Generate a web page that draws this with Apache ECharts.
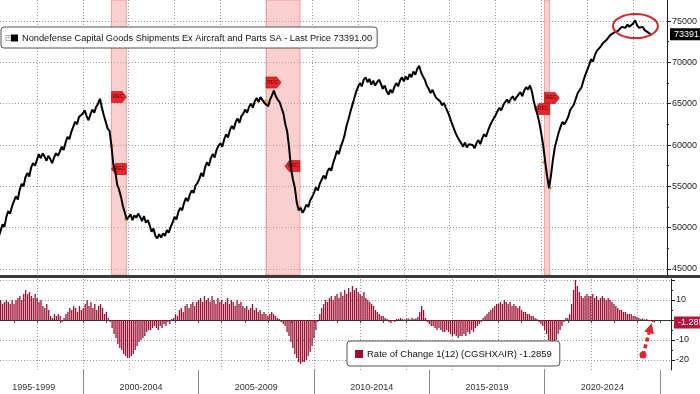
<!DOCTYPE html>
<html><head><meta charset="utf-8">
<script src="https://cdn.jsdelivr.net/npm/echarts@6/dist/echarts.min.js"></script>
<style>html,body{margin:0;padding:0;background:#fff}#c{width:700px;height:394px}</style>
</head><body><div id="c"></div>
<script>
// ---------- DATA ----------
const startYear = 1996, startMonth = 5; // first observation: May 1996, monthly
const seriesName = 'Nondefense Capital Goods Shipments Ex Aircraft and Parts SA';
const rocName = 'Rate of Change 1(12) (CGSHXAIR)';
const shipments = [
  48900, 49600, 50400, 50100, 51300, 52000, 51700, 52600,
  53200, 53800, 53400, 54600, 55300, 55000, 56100, 56600, 56200, 57300, 57800, 57500,
  58200, 58900, 58400, 59000, 58600, 58100, 58700, 58300, 57800, 58500, 59000, 58700,
  59200, 59800, 59400, 60300, 61000, 60700, 61600, 62200, 62800, 62500, 63400, 63500,
  63800, 64200, 63500, 63000, 63700, 64300, 63900, 64600, 65000, 65600, 64500, 63600,
  62800, 62000, 61700, 59900, 57600, 56800, 55200, 54600, 53700, 52600, 51800, 51000,
  51300, 51600, 50900, 51500, 51200, 51700, 51300, 50800, 51400, 50600, 50900, 50300,
  49500, 49900, 49000, 48700, 49200, 48800, 49300, 49000, 49700, 49400, 50100, 50600,
  51300, 51000, 51900, 52400, 52100, 53000, 53600, 53200, 54000, 54500, 54200, 55100,
  55400, 55900, 56600, 56200, 57300, 57900, 57500, 58400, 58900, 58500, 59400, 59900,
  60200, 59800, 60700, 61300, 60900, 61800, 62300, 61900, 62800, 63200, 62700, 63500,
  63800, 64300, 63900, 64600, 65000, 64500, 65300, 65700, 65200, 65800, 65900, 65100,
  65300, 64700, 65500, 66000, 66600, 65900, 65500, 65200, 65400, 63800, 62500, 61600,
  59600, 57100, 55800, 54800, 53000, 52100, 52400, 51800, 52200, 52800, 52500, 53300,
  53700, 54200, 54900, 54500, 55300, 55800, 56300, 55900, 56800, 57200, 56900, 57800,
  58500, 59300, 58900, 59800, 60400, 61200, 62300, 63100, 64000, 64800, 65600, 66400,
  67000, 67500, 67100, 67900, 68200, 67600, 68000, 67300, 67800, 67200, 67600, 67900,
  67400, 66800, 67200, 66500, 66100, 66700, 66300, 67000, 67500, 67100, 67800, 68200,
  67700, 68300, 67900, 68600, 68200, 68900, 68500, 69200, 69600, 68800, 68300, 67900,
  67200, 66800, 66300, 66700, 66100, 65700, 65900, 65300, 64800, 65100, 64500, 64000,
  63400, 62700, 62100, 61500, 61000, 60600, 60200, 59800, 60300, 59700, 60100, 59900,
  60000, 59600, 60200, 60600, 60100, 60800, 61300, 61000, 61700, 62300, 62800, 63200,
  63600, 64100, 64500, 64200, 64800, 65200, 65500, 65100, 65600, 65900, 65400, 65800,
  66000, 66400, 65900, 66600, 67000, 66700, 67200, 66500, 65300, 64400, 63600, 62600,
  61300, 59800, 57900, 56200, 54800, 56300, 58200, 59700, 60600, 61500, 62200, 62800,
  62500, 62900, 63400, 64200, 64000, 64900, 65600, 66300, 66100, 67000, 67800, 68500,
  69100, 69700, 70400, 70100, 70900, 71400, 71200, 71900, 72300, 72100, 72700, 73000,
  73300, 73100, 73600, 73400, 73800, 74000, 74300, 74100, 74200, 74600, 74300, 74400,
  74700, 75100, 74500, 74200, 74000, 74300, 73900, 73800, 73600, 73391
];
const roc = [
  9, 10, 8, 9, 10, 9, 8, 10,
  8, 10, 11, 12, 10, 13, 15, 13, 14, 12, 11, 13,
  11, 9, 10, 7, 6, 8, 5, 2, 1, 3, 2, 3,
  2, -1, 1, 3, 4, 6, 5, 7, 6, 4, 7, 5,
  6, 8, 10, 7, 9, 6, 8, 5, 7, 8, 6, 3,
  4, 1, -1, -4, -7, -9, -12, -14, -15, -17, -18, -19,
  -19, -18, -17, -15, -13, -11, -10, -9, -8, -6, -5, -5,
  -4, -3, -4, -5, -3, -4, -2, -3, -1, -2, 0.5, 1,
  3, 2, 5, 6, 4, 7, 8, 6, 8, 9, 7, 9,
  10, 11, 9, 12, 10, 11, 9, 12, 10, 8, 11, 9,
  10, 8, 9, 11, 8, 10, 9, 7, 10, 8, 9, 7,
  6, 7, 5, 6, 8, 5, 6, 4, 5, 3, 4, 3,
  2, 3, 4, 3, 2, 1, 0.5, -1, -2, -3, -6, -8,
  -11, -14, -17, -19, -21, -22, -21, -21, -20, -18, -16, -13,
  -9, -5, -1, 3, 6, 8, 10, 9, 11, 12, 10, 12,
  13, 11, 14, 12, 15, 13, 16, 14, 17, 15, 16, 14,
  13, 12, 14, 11, 10, 9, 8, 7, 5, 4, 3, 2,
  2, 1, 0.5, -1, -1.5, -0.5, -1, 0.5, 0.5, 1, 0.5, 0.3,
  0.5, 0.8, 0.3, 1, 0.5, 0.8, 1.5, 4, 7, 5, 1, -1,
  -2, -3, -3, -4, -5, -4, -5, -6, -6, -5, -6, -7,
  -8, -7, -8, -9, -8, -8, -7, -8, -6, -7, -5, -6,
  -4, -3, -2, -1, 1, 2, 3, 4, 5, 6, 7, 8,
  8, 9, 8, 10, 9, 8, 9, 7, 8, 7, 6, 7,
  5, 4, 4, 3, 3, 2, 2, 1, 0.5, -1, -2, -3,
  -5, -7, -10, -14, -17, -13, -10, -7, -5, -3, -1, 1,
  1, 3, 8, 15, 20, 17, 14, 12, 11, 12, 13, 12,
  12, 13, 11, 12, 10, 11, 12, 11, 10, 11, 10, 9,
  8, 7, 6, 5, 5, 4, 4, 3, 3, 3, 2, 2,
  1.5, 1, 0.5, 0.8, 0.3, 0.5, -0.3, -0.5, -1, -1.2859
];
const periodLabels = ['1995-1999', '2000-2004', '2005-2009', '2010-2014', '2015-2019', '2020-2024'];
const periodLabelPos = [1997.85, 2002.5, 2007.5, 2012.5, 2017.5, 2022.5];
const periodBounds = [2000, 2005, 2010, 2015, 2020, 2025];
const gridYears = [1998, 2000, 2002, 2004, 2006, 2008, 2010, 2012, 2014, 2016, 2018, 2020, 2022, 2024];
const tickYears = [1997, 1998, 1999, 2000, 2001, 2002, 2003, 2004, 2005, 2006, 2007, 2008, 2009, 2010, 2011, 2012, 2013, 2014, 2015, 2016, 2017, 2018, 2019, 2020, 2021, 2022, 2023, 2024, 2025];
const topTicks = [45000, 50000, 55000, 60000, 65000, 70000, 75000];
const topMinor = [47500, 52500, 57500, 62500, 67500, 72500];
const botTicks = [20, 10, 0, -10, -20];
const botLabels = [10, -10, -20];
const botMinor = [15, 5, -5, -15];
const recessions = [[2001.25, 2001.9], [2007.99, 2009.47], [2020.13, 2020.36]];
const recTags = [
  {x: 2001.25, v: 65800, dir: 'r'}, {x: 2001.9, v: 57100, dir: 'l'},
  {x: 2007.99, v: 67560, dir: 'r'}, {x: 2009.47, v: 57450, dir: 'l'},
  {x: 2020.13, v: 65700, dir: 'r'}, {x: 2020.36, v: 64350, dir: 'l'}
];
const xMin = 1996.39, xMax = 2025.475;
const topMin = 44270, topMax = 77550;
const botMin = -25, botMax = 20.5;
const circleCenter = [2024.1, 74400];
const arrowFrom = [2024.26, -17.5], arrowTo = [2024.64, -1.6];

// ---------- BUILD ----------
const xOf = i => startYear + (startMonth - 1 + i) / 12;
const lineData = shipments.map((v, i) => [xOf(i), v]);
const barData = roc.map((v, i) => [xOf(i), v]);
const lastPrice = shipments[shipments.length - 1];
const lastRoc = roc[roc.length - 1];
const valAt = yr => shipments[Math.max(0, Math.min(shipments.length - 1, Math.round((yr - xOf(0)) * 12)))];

const FONT = 'Liberation Sans, Arial, sans-serif';
const dotted = {type: [1, 2], color: '#9a9a9a', width: 1};
const RED = '#9c0f2e';
const hidden = {color: 'rgba(0,0,0,0)', width: 0};

const tagPoints = recTags.map(t => ({
  coord: [t.x, t.v],
  symbol: t.dir === 'r' ? 'path://M0,0 L10,0 L14,5 L10,10 L0,10 Z' : 'path://M4,0 L14,0 L14,10 L4,10 L0,5 Z',
  symbolSize: [15, 11],
  symbolKeepAspect: false,
  symbolOffset: [t.dir === 'r' ? 7.5 : -7.5, 0],
  itemStyle: {color: '#e8262c', borderColor: '#9c1010', borderWidth: 0.6},
  label: {show: true, formatter: 'REC', fontSize: 5, color: '#6a0000', fontFamily: FONT, offset: [t.dir === 'r' ? -1 : 1, 0]}
}));
const dotPoints = [];
recessions.forEach(r => {
  [r[0], r[1]].forEach(x => dotPoints.push({
    coord: [x, valAt(x)], symbol: 'circle', symbolSize: 4,
    itemStyle: {color: '#f2a23a'}, label: {show: false}
  }));
});
const plain = v => String(v);

const chart = echarts.init(document.getElementById('c'), null, {renderer: 'canvas'});
const option = {
  animation: false,
  backgroundColor: '#fff',
  textStyle: {fontFamily: FONT},
  grid: [
    {left: 0, right: 29, top: 0, height: 275},
    {left: 0, right: 29, top: 279, height: 91}
  ],
  xAxis: [
    {gridIndex: 0, type: 'value', min: xMin, max: xMax,
      axisLine: {show: false}, axisTick: {show: false, customValues: gridYears},
      axisLabel: {show: false}, splitLine: {show: true, lineStyle: dotted}},
    {gridIndex: 1, type: 'value', min: xMin, max: xMax, position: 'bottom',
      axisLine: {show: true, lineStyle: {color: '#333', width: 1}},
      axisTick: {show: false, customValues: gridYears},
      axisLabel: {show: false}, splitLine: {show: true, lineStyle: dotted}},
    {gridIndex: 1, type: 'value', min: xMin, max: xMax, position: 'bottom',
      axisLine: {show: false},
      axisTick: {show: true, customValues: tickYears, length: 3, lineStyle: {color: '#444'}},
      axisLabel: {show: false}, splitLine: {show: false}},
    {gridIndex: 1, type: 'value', min: xMin, max: xMax, position: 'bottom',
      axisLine: {show: false},
      axisTick: {show: true, customValues: periodBounds, length: 24, lineStyle: {color: '#8a8a8a'}},
      axisLabel: {show: true, customValues: periodLabelPos, margin: 13, fontSize: 9, color: '#333', fontFamily: FONT,
        formatter: v => { let k = 0, d = 1e9; periodLabelPos.forEach((p, i) => { if (Math.abs(p - v) < d) { d = Math.abs(p - v); k = i; } }); return periodLabels[k]; }},
      splitLine: {show: false}}
  ],
  yAxis: [
    {gridIndex: 0, type: 'value', position: 'right', min: topMin, max: topMax,
      axisLine: {show: true, lineStyle: {color: '#222', width: 1}},
      axisTick: {show: true, customValues: topTicks, length: 4, lineStyle: {color: '#222'}},
      axisLabel: {show: true, customValues: topTicks, fontSize: 9, color: '#222', margin: 5, fontFamily: FONT, formatter: plain},
      splitLine: {show: true, lineStyle: dotted}},
    {gridIndex: 0, type: 'value', position: 'right', min: topMin, max: topMax,
      axisLine: {show: false},
      axisTick: {show: true, customValues: topMinor, length: 2, lineStyle: {color: '#222'}},
      axisLabel: {show: false}, splitLine: {show: false}},
    {gridIndex: 1, type: 'value', position: 'right', min: botMin, max: botMax,
      axisLine: {show: true, lineStyle: {color: '#222', width: 1}},
      axisTick: {show: true, customValues: botTicks, length: 4, lineStyle: {color: '#222'}},
      axisLabel: {show: true, customValues: botLabels, fontSize: 9, color: '#222', margin: 5, fontFamily: FONT, formatter: plain},
      splitLine: {show: true, lineStyle: dotted}},
    {gridIndex: 1, type: 'value', position: 'right', min: botMin, max: botMax,
      axisLine: {show: false},
      axisTick: {show: true, customValues: botMinor, length: 2, lineStyle: {color: '#222'}},
      axisLabel: {show: false}, splitLine: {show: false}}
  ],
  legend: [
    {data: [seriesName], left: 1, top: 27, selectedMode: false,
      backgroundColor: '#fff', borderColor: '#555', borderWidth: 1, borderRadius: 3,
      padding: [5, 5, 4, 0], itemWidth: 0, itemHeight: 0, icon: 'rect',
      formatter: n => '{p|+}{s|}{t|' + n + ' - Last Price ' + lastPrice.toFixed(2) + '}',
      textStyle: {fontFamily: FONT, rich: {
        p: {width: 5, height: 5, borderColor: '#999', borderWidth: 0.8, fontSize: 5, lineHeight: 5, align: 'center', color: '#777'},
        s: {width: 7, height: 7, backgroundColor: '#000'},
        t: {fontSize: 9.25, color: '#111', padding: [0, 0, 0, 4], fontFamily: FONT}
      }}},
    {data: [rocName], left: 347, top: 341, selectedMode: false,
      backgroundColor: '#fff', borderColor: '#555', borderWidth: 1, borderRadius: 3,
      padding: [7, 8, 6, 3], itemWidth: 0, itemHeight: 0, icon: 'rect',
      formatter: n => '{s|}{t|' + n + ' ' + lastRoc.toFixed(4) + '}',
      textStyle: {fontFamily: FONT, rich: {
        s: {width: 8, height: 8, backgroundColor: RED},
        t: {fontSize: 9.5, color: '#111', padding: [0, 0, 0, 4], fontFamily: FONT}
      }}}
  ],
  series: [
    {name: seriesName, type: 'line', xAxisIndex: 0, yAxisIndex: 0, data: lineData,
      showSymbol: false, symbol: 'none', clip: false, z: 5,
      lineStyle: {color: '#000', width: 2}, itemStyle: {color: '#000'},
      markArea: {silent: true, itemStyle: {color: 'rgba(244,160,160,0.5)', borderColor: 'rgba(232,120,120,0.6)', borderWidth: 1},
        data: recessions.map(r => [{xAxis: r[0]}, {xAxis: r[1]}])},
      markPoint: {silent: true, data: dotPoints.concat(tagPoints)},
      markLine: {silent: true, symbol: 'none', lineStyle: hidden,
        label: {show: true, position: 'end', distance: 3, formatter: String(Math.round(lastPrice)),
          backgroundColor: '#000', color: '#fff', fontSize: 9, padding: [2, 3, 1, 4], fontFamily: FONT},
        data: [{yAxis: lastPrice}]}
    },
    {name: rocName, type: 'bar', xAxisIndex: 1, yAxisIndex: 2, data: barData,
      barWidth: 1.3, itemStyle: {color: RED},
      markLine: {silent: true, symbol: 'none', lineStyle: hidden,
        label: {show: true, position: 'end', distance: 3, formatter: lastRoc.toFixed(4),
          backgroundColor: '#b5173d', color: '#fff', fontSize: 9, padding: [2, 3, 1, 4], fontFamily: FONT},
        data: [{yAxis: lastRoc}]}
    }
  ]
};
chart.setOption(option);

// annotations anchored to data coordinates
const c = chart.convertToPixel({xAxisIndex: 0, yAxisIndex: 0}, circleCenter);
const a0 = chart.convertToPixel({xAxisIndex: 1, yAxisIndex: 2}, arrowFrom);
const a1 = chart.convertToPixel({xAxisIndex: 1, yAxisIndex: 2}, arrowTo);
const dx = a1[0] - a0[0], dy = a1[1] - a0[1], L = Math.hypot(dx, dy), ux = dx / L, uy = dy / L;
const head = 10, hw = 5;
const base = [a1[0] - ux * head, a1[1] - uy * head];
chart.setOption({graphic: [
  {type: 'rect', left: 0, top: 275, shape: {x: 0, y: 0, width: 700, height: 3}, style: {fill: '#3a3a3a'}, z: 10},
  {type: 'ellipse', shape: {cx: c[0], cy: c[1], rx: 22.5, ry: 12}, style: {fill: 'none', stroke: '#d4262b', lineWidth: 2}, z: 20},
  {type: 'line', shape: {x1: a0[0], y1: a0[1], x2: base[0], y2: base[1]}, style: {stroke: '#e0222a', lineWidth: 3.5, lineDash: [4, 3]}, z: 20},
  {type: 'polygon', shape: {points: [[a1[0], a1[1]], [base[0] - uy * hw, base[1] + ux * hw], [base[0] + uy * hw, base[1] - ux * hw]]}, style: {fill: '#e0222a'}, z: 20},
  {type: 'circle', shape: {cx: a0[0], cy: a0[1], r: 3.5}, style: {fill: '#e0222a'}, z: 20}
]});
</script></body></html>
